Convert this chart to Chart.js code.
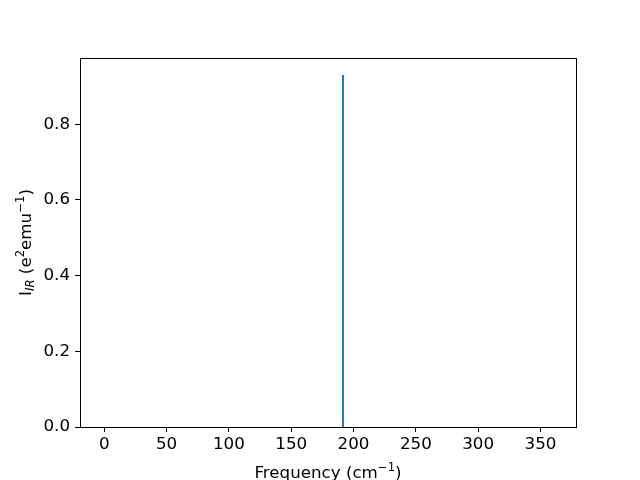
<!DOCTYPE html>
<html>
<head>
<meta charset="utf-8">
<script src="https://cdn.jsdelivr.net/npm/chart.js@4/dist/chart.umd.min.js"></script>
<style>
  html, body { margin: 0; padding: 0; background: #fff; }
  #wrap { width: 640px; height: 480px; }
</style>
</head>
<body>
<div id="wrap"><canvas id="chart" width="640" height="480"></canvas></div>
<script>
// peak data (stick spectrum)
const peakFreqs = [191.5];
const peakIntensities = [0.93];

// axis ranges and ticks
const xMin = -19.5, xMax = 378.5;
const yMin = 0, yMax = 0.975;
const xTicks = [0, 50, 100, 150, 200, 250, 300, 350];
const yTicks = [0.0, 0.2, 0.4, 0.6, 0.8];

const FONT = '"DejaVu Sans", sans-serif';
const BIG = 16.7, SMALL = 11.7;

// each peak is a vertical segment from 0 up to its intensity
const stickPoints = [];
peakFreqs.forEach((f, i) => {
    stickPoints.push({ x: f, y: 0 });
    stickPoints.push({ x: f, y: peakIntensities[i] });
    stickPoints.push({ x: f, y: NaN });
});

// draws the full box and the axis titles with sub/superscripts
const framePlugin = {
    id: 'frame',
    afterDraw(chart) {
        const ctx = chart.ctx;
        const a = chart.chartArea;
        ctx.save();
        ctx.strokeStyle = '#000';
        ctx.lineWidth = 1;
        ctx.strokeRect(Math.round(a.left) + 0.5, Math.round(a.top) + 0.5,
            Math.round(a.right - a.left), Math.round(a.bottom - a.top));

        ctx.fillStyle = '#000';
        ctx.textBaseline = 'alphabetic';

        // x title: Frequency (cm^-1)
        const xParts = [
            { t: 'Frequency (cm', size: BIG, dy: 0 },
            { t: '\u22121', size: SMALL, dy: -7 },
            { t: ')', size: BIG, dy: 0 }
        ];
        drawParts(ctx, xParts, (a.left + a.right) / 2, 478);

        // y title: I_IR (e^2 emu^-1), rotated
        const yParts = [
            { t: 'I', size: BIG, dy: 0 },
            { t: 'IR', size: SMALL, dy: 3, italic: true },
            { t: ' (e', size: BIG, dy: 0 },
            { t: '2', size: SMALL, dy: -7 },
            { t: 'emu', size: BIG, dy: 0 },
            { t: '\u22121', size: SMALL, dy: -7 },
            { t: ')', size: BIG, dy: 0 }
        ];
        ctx.translate(30.5, (a.top + a.bottom) / 2);
        ctx.rotate(-Math.PI / 2);
        drawParts(ctx, yParts, 0, 0);
        ctx.restore();
    }
};

function drawParts(ctx, parts, cx, baseline) {
    let total = 0;
    parts.forEach(p => {
        ctx.font = (p.italic ? 'italic ' : '') + p.size + 'px ' + FONT;
        p.w = ctx.measureText(p.t).width;
        total += p.w;
    });
    let x = cx - total / 2;
    ctx.textAlign = 'left';
    parts.forEach(p => {
        ctx.font = (p.italic ? 'italic ' : '') + p.size + 'px ' + FONT;
        ctx.fillText(p.t, x, baseline + p.dy);
        x += p.w;
    });
}

const ctx = document.getElementById('chart').getContext('2d');
new Chart(ctx, {
    type: 'line',
    data: {
        datasets: [{
            data: stickPoints,
            borderColor: '#1f77b4',
            borderWidth: 2,
            pointRadius: 0,
            spanGaps: false,
            fill: false,
            tension: 0
        }]
    },
    options: {
        responsive: false,
        animation: false,
        layout: { padding: { top: 58, right: 64, left: 0, bottom: 0 } },
        plugins: {
            legend: { display: false },
            tooltip: { enabled: false }
        },
        scales: {
            x: {
                type: 'linear',
                min: xMin,
                max: xMax,
                afterBuildTicks: axis => { axis.ticks = xTicks.map(v => ({ value: v })); },
                afterFit: axis => { axis.height = 53; },
                grid: { drawOnChartArea: false, drawTicks: true, tickLength: 5, tickColor: '#000' },
                border: { display: true, color: '#000', width: 1 },
                ticks: {
                    color: '#000',
                    font: { family: FONT, size: BIG },
                    padding: 3,
                    maxRotation: 0,
                    callback: v => String(v)
                }
            },
            y: {
                type: 'linear',
                min: yMin,
                max: yMax,
                afterBuildTicks: axis => { axis.ticks = yTicks.map(v => ({ value: v })); },
                afterFit: axis => { axis.width = 80; },
                grid: { drawOnChartArea: false, drawTicks: true, tickLength: 5, tickColor: '#000' },
                border: { display: true, color: '#000', width: 1 },
                ticks: {
                    color: '#000',
                    font: { family: FONT, size: BIG },
                    padding: 5,
                    callback: v => v.toFixed(1)
                }
            }
        }
    },
    plugins: [framePlugin]
});
</script>
</body>
</html>
